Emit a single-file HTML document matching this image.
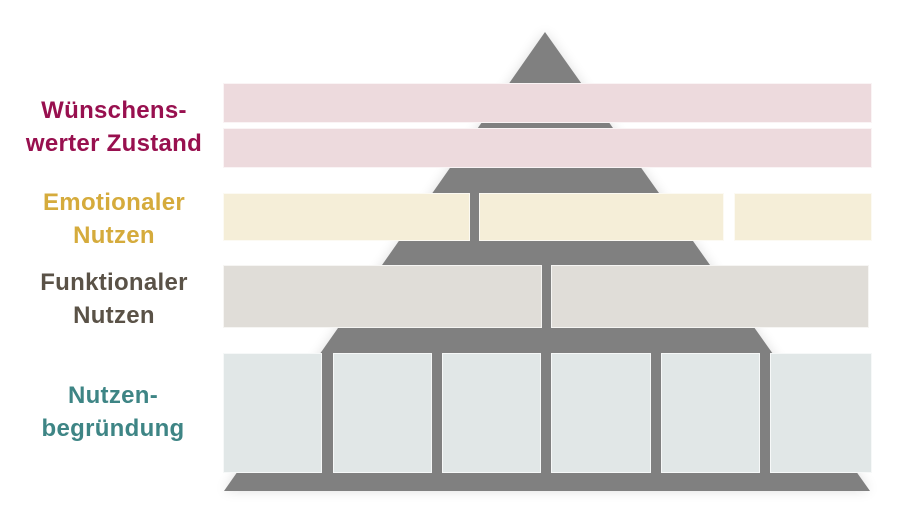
<!DOCTYPE html>
<html><head><meta charset="utf-8"><style>
body{margin:0;width:900px;height:522px;background:#fff;overflow:hidden;position:relative;font-family:"Liberation Sans",sans-serif}
.b{position:absolute;box-sizing:border-box;border:1px solid rgba(255,255,255,.7)}
.p{background:#eddadd}.y{background:#f5eed8}.g{background:#e0ddd8}.c{background:#e1e7e7}
.t{position:absolute;left:0;width:228px;text-align:center;font-weight:bold;font-size:24px;line-height:33px;letter-spacing:0.3px}
.bar{position:absolute;background:#808080}
</style></head><body>
<svg width="900" height="522" style="position:absolute;left:0;top:0">
<defs><filter id="s" x="-20%" y="-20%" width="140%" height="140%"><feGaussianBlur stdDeviation="6"/></filter></defs>
<polygon points="545,32 224,491 870,491" fill="#000" opacity=".12" filter="url(#s)"/>
<polygon points="545,32 224,491 870,491" fill="#808080"/>
</svg>
<div class="b p" style="left:223px;top:83px;width:649px;height:40px"></div>
<div class="b p" style="left:223px;top:128px;width:649px;height:40px"></div>
<div class="b y" style="left:223px;top:193px;width:247px;height:48px"></div>
<div class="b y" style="left:479px;top:193px;width:245px;height:48px"></div>
<div class="b y" style="left:734px;top:193px;width:138px;height:48px"></div>
<div class="b g" style="left:223px;top:265px;width:319px;height:63px"></div>
<div class="b g" style="left:551px;top:265px;width:318px;height:63px"></div>
<div class="b c" style="left:223px;top:353px;width:99px;height:120px"></div>
<div class="b c" style="left:333px;top:353px;width:99px;height:120px"></div>
<div class="b c" style="left:442px;top:353px;width:99px;height:120px"></div>
<div class="b c" style="left:551px;top:353px;width:100px;height:120px"></div>
<div class="b c" style="left:661px;top:353px;width:99px;height:120px"></div>
<div class="b c" style="left:770px;top:353px;width:102px;height:120px"></div>
<div class="bar" style="left:322px;top:353px;width:11px;height:125px"></div>
<div class="bar" style="left:760px;top:353px;width:10px;height:125px"></div>
<div class="t" style="top:94px;color:#98104f">Wünschens-<br>werter Zustand</div>
<div class="t" style="top:186px;color:#d5ab3c">Emotionaler<br>Nutzen</div>
<div class="t" style="top:266px;color:#5a5247">Funktionaler<br>Nutzen</div>
<div class="t" style="top:379px;color:#3e8585;width:226px">Nutzen-<br>begründung</div>
</body></html>
